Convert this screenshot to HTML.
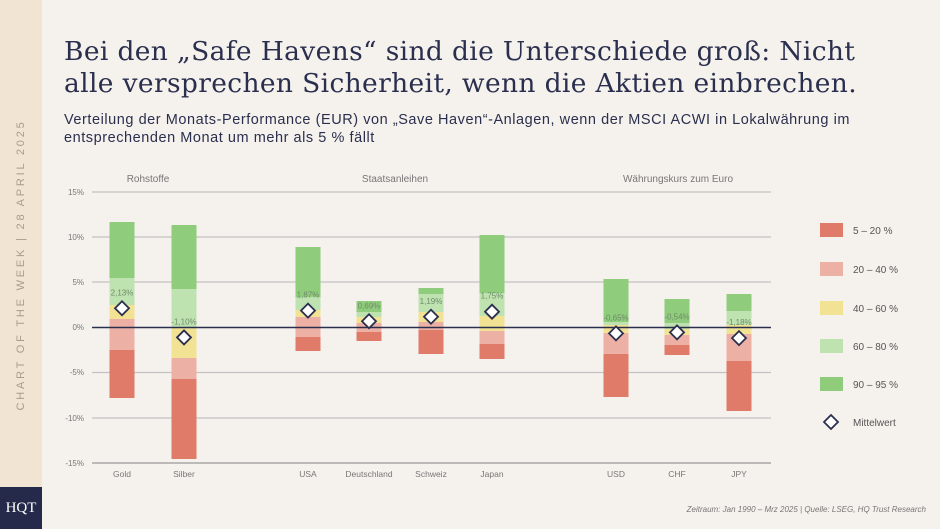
<!DOCTYPE html>
<html><head><meta charset="utf-8"><style>
body{margin:0;width:940px;height:529px;background:#f5f2ed;overflow:hidden;font-family:"Liberation Sans",sans-serif;position:relative}
.side{position:absolute;left:0;top:0;width:42px;height:487px;background:#f1e4d2}
.logo{position:absolute;left:0;top:487px;width:42px;height:42px;background:#262a4a;color:#fff;font-family:"Liberation Serif",serif;font-size:15px;text-align:center;line-height:42px}
.vt{position:absolute;left:21px;top:265px;transform:translate(-50%,-50%) rotate(-90deg);white-space:nowrap;font-size:11px;letter-spacing:2.8px;color:#a89c8c}
h1{position:absolute;left:64px;top:36px;margin:0;font-family:"DejaVu Serif",serif;font-weight:normal;font-size:26.5px;line-height:32px;color:#2b2f4e;letter-spacing:0.35px;white-space:nowrap}
.sub{position:absolute;left:64px;top:111px;font-size:14.5px;line-height:18px;color:#2b2f4e;letter-spacing:0.55px;white-space:nowrap}
.src{position:absolute;right:14px;top:505px;font-size:8px;font-style:italic;color:#777}
</style></head><body>
<div class="side"></div><div class="logo">HQT</div>
<div class="vt">CHART OF THE WEEK | 28 APRIL 2025</div>
<h1>Bei den „Safe Havens“ sind die Unterschiede groß: Nicht<br>alle versprechen Sicherheit, wenn die Aktien einbrechen.</h1>
<div class="sub">Verteilung der Monats-Performance (EUR) von „Save Haven“-Anlagen, wenn der MSCI ACWI in Lokalwährung im<br>entsprechenden Monat um mehr als 5 % fällt</div>
<svg width="940" height="529" style="position:absolute;left:0;top:0" font-family="Liberation Sans,sans-serif">
<g font-size="10" fill="#777" text-anchor="middle">
<text x="148" y="182">Rohstoffe</text><text x="395" y="182">Staatsanleihen</text><text x="678" y="182">Währungskurs zum Euro</text>
</g>
<g stroke="#c4c2c2" stroke-width="1.2">
<line x1="92" x2="771" y1="192" y2="192"/><line x1="92" x2="771" y1="237" y2="237"/><line x1="92" x2="771" y1="282" y2="282"/><line x1="92" x2="771" y1="372.5" y2="372.5"/><line x1="92" x2="771" y1="418" y2="418"/><line x1="92" x2="771" y1="463" y2="463" stroke="#999"/>
</g>
<g font-size="8" fill="#777" text-anchor="end">
<text x="84" y="195">15%</text><text x="84" y="240">10%</text><text x="84" y="285">5%</text><text x="84" y="330">0%</text><text x="84" y="375">-5%</text><text x="84" y="421">-10%</text><text x="84" y="466">-15%</text>
</g>
<g id="bars"></g>
<line x1="92" x2="771" y1="327.5" y2="327.5" stroke="#2b2f4e" stroke-width="1.5"/>
<g id="marks"></g>
<g font-size="8.5" fill="#777" text-anchor="middle">
<text x="122" y="477">Gold</text><text x="184" y="477">Silber</text><text x="308" y="477">USA</text><text x="369" y="477">Deutschland</text><text x="431" y="477">Schweiz</text><text x="492" y="477">Japan</text><text x="616" y="477">USD</text><text x="677" y="477">CHF</text><text x="739" y="477">JPY</text>
</g>
<g font-size="10" fill="#555">
<rect x="820" y="223" width="23" height="14" fill="#e07b69"/><text x="853" y="234">5 – 20 %</text>
<rect x="820" y="262" width="23" height="14" fill="#edb0a5"/><text x="853" y="273">20 – 40 %</text>
<rect x="820" y="301" width="23" height="14" fill="#f1e294"/><text x="853" y="312">40 – 60 %</text>
<rect x="820" y="339" width="23" height="14" fill="#bee3b0"/><text x="853" y="350">60 – 80 %</text>
<rect x="820" y="377" width="23" height="14" fill="#8fcc7c"/><text x="853" y="388">90 – 95 %</text>
<path d="M831 415 L838 422 L831 429 L824 422 Z" fill="#fff" stroke="#2b2f4e" stroke-width="1.8"/><text x="853" y="426">Mittelwert</text>
</g>
</svg>
<div class="src">Zeitraum: Jan 1990 – Mrz 2025 | Quelle: LSEG, HQ Trust Research</div>
<script>
var cols=["#8fcc7c","#bee3b0","#f1e294","#edb0a5","#e07b69"];
var d=[[122,[222,278,305,319,350,398],2.13,"2,13%"],[184,[225,289,327,358,379,459],-1.10,"-1,10%"],[308,[247,297,310,317,337,351],1.87,"1,87%"],[369,[301,312,317,323,332,341],0.69,"0,69%"],[431,[288,294,312,322,330,354],1.19,"1,19%"],[492,[235,293,316,331,344,359],1.75,"1,75%"],[616,[279,322,325,333,354,397],-0.65,"-0,65%"],[677,[299,323,329,335,345,355],-0.54,"-0,54%"],[739,[294,311,325,334,361,411],-1.18,"-1,18%"]];
var b="",m="";
d.forEach(function(r){var x=r[0]-12.5,s=r[1];for(var i=0;i<5;i++)b+='<rect x="'+x+'" y="'+s[i]+'" width="25" height="'+(s[i+1]-s[i])+'" fill="'+cols[i]+'"/>';
var y=327.5-9.03*r[2];m+='<text x="'+r[0]+'" y="'+(y-13)+'" font-size="8" fill="#6f8a6a" text-anchor="middle">'+r[3]+'</text><path d="M'+r[0]+' '+(y-7)+' L'+(r[0]+7)+' '+y+' L'+r[0]+' '+(y+7)+' L'+(r[0]-7)+' '+y+' Z" fill="#fff" stroke="#2b2f4e" stroke-width="1.8"/>';});
document.getElementById("bars").innerHTML=b;document.getElementById("marks").innerHTML=m;
</script>
</body></html>
